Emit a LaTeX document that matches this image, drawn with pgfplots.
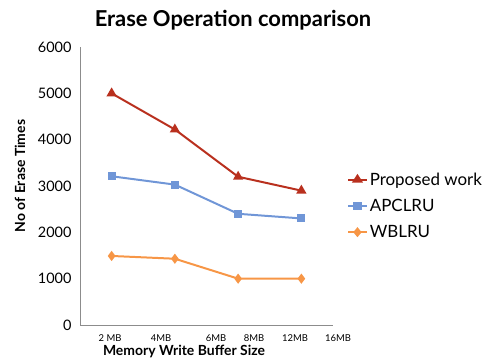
\documentclass[border=0pt]{standalone}
\usepackage{pgfplots}
\pgfplotsset{compat=1.18}
\usepackage{fontspec}
\setmainfont{Lato}
\definecolor{cprop}{RGB}{185,48,30}
\definecolor{capc}{RGB}{112,150,215}
\definecolor{cwb}{RGB}{247,150,70}
\definecolor{axgray}{RGB}{140,140,140}
\begin{document}
\begin{tikzpicture}
\path[use as bounding box] (0,0) rectangle (492bp,358bp);
\node[font=\bfseries\fontsize{22}{26}\selectfont] at (233bp,338bp) {Erase Operation comparison};
\node[font=\bfseries\fontsize{14}{16}\selectfont] at (184bp,7bp) {Memory Write Buffer Size};
\node[font=\bfseries\fontsize{14}{17}\selectfont,rotate=90] at (20bp,182bp) {No of Erase Times};
\begin{axis}[
  at={(80bp,33bp)}, anchor=south west,
  scale only axis, width=253bp, height=278bp,
  xmin=0.5, xmax=4.5, ymin=0, ymax=6000,
  axis x line=bottom, axis y line=left,
  axis line style={axgray,-},
  xtick=\empty,
  ytick={0,1000,2000,3000,4000,5000,6000},
  major tick length=0pt,
  yticklabel style={font=\fontsize{14.5}{17}\selectfont, xshift=-5bp},
  /pgf/number format/assume math mode=true,
  /pgf/number format/1000 sep={},
  clip=false,
  legend style={draw=none, fill=none, at={(1.055,0.563)}, anchor=north west,
    font=\fontsize{17}{20}\selectfont, row sep=8.5bp, inner xsep=0pt},
  legend cell align=left,
  legend image post style={xscale=1.1},
]
\addplot[cprop, line width=2pt, mark=triangle*, mark size=4pt] coordinates {(1,5000) (2,4220) (3,3200) (4,2900)};
\addlegendentry{Proposed work}
\addplot[capc, line width=2pt, mark=square*, mark size=3pt] coordinates {(1,3210) (2,3030) (3,2400) (4,2300)};
\addlegendentry{APCLRU}
\addplot[cwb, line width=2pt, mark=diamond*, mark size=3.5pt] coordinates {(1,1490) (2,1430) (3,1000) (4,1000)};
\addlegendentry{WBLRU}
\end{axis}
\begin{scope}[font=\fontsize{9.5}{11}\selectfont]
\node at (110bp,20bp) {2 MB};
\node at (161bp,20bp) {4MB};
\node at (216bp,20bp) {6MB};
\node at (254bp,20bp) {8MB};
\node at (295bp,20bp) {12MB};
\node at (338bp,20bp) {16MB};
\end{scope}
\end{tikzpicture}
\end{document}
